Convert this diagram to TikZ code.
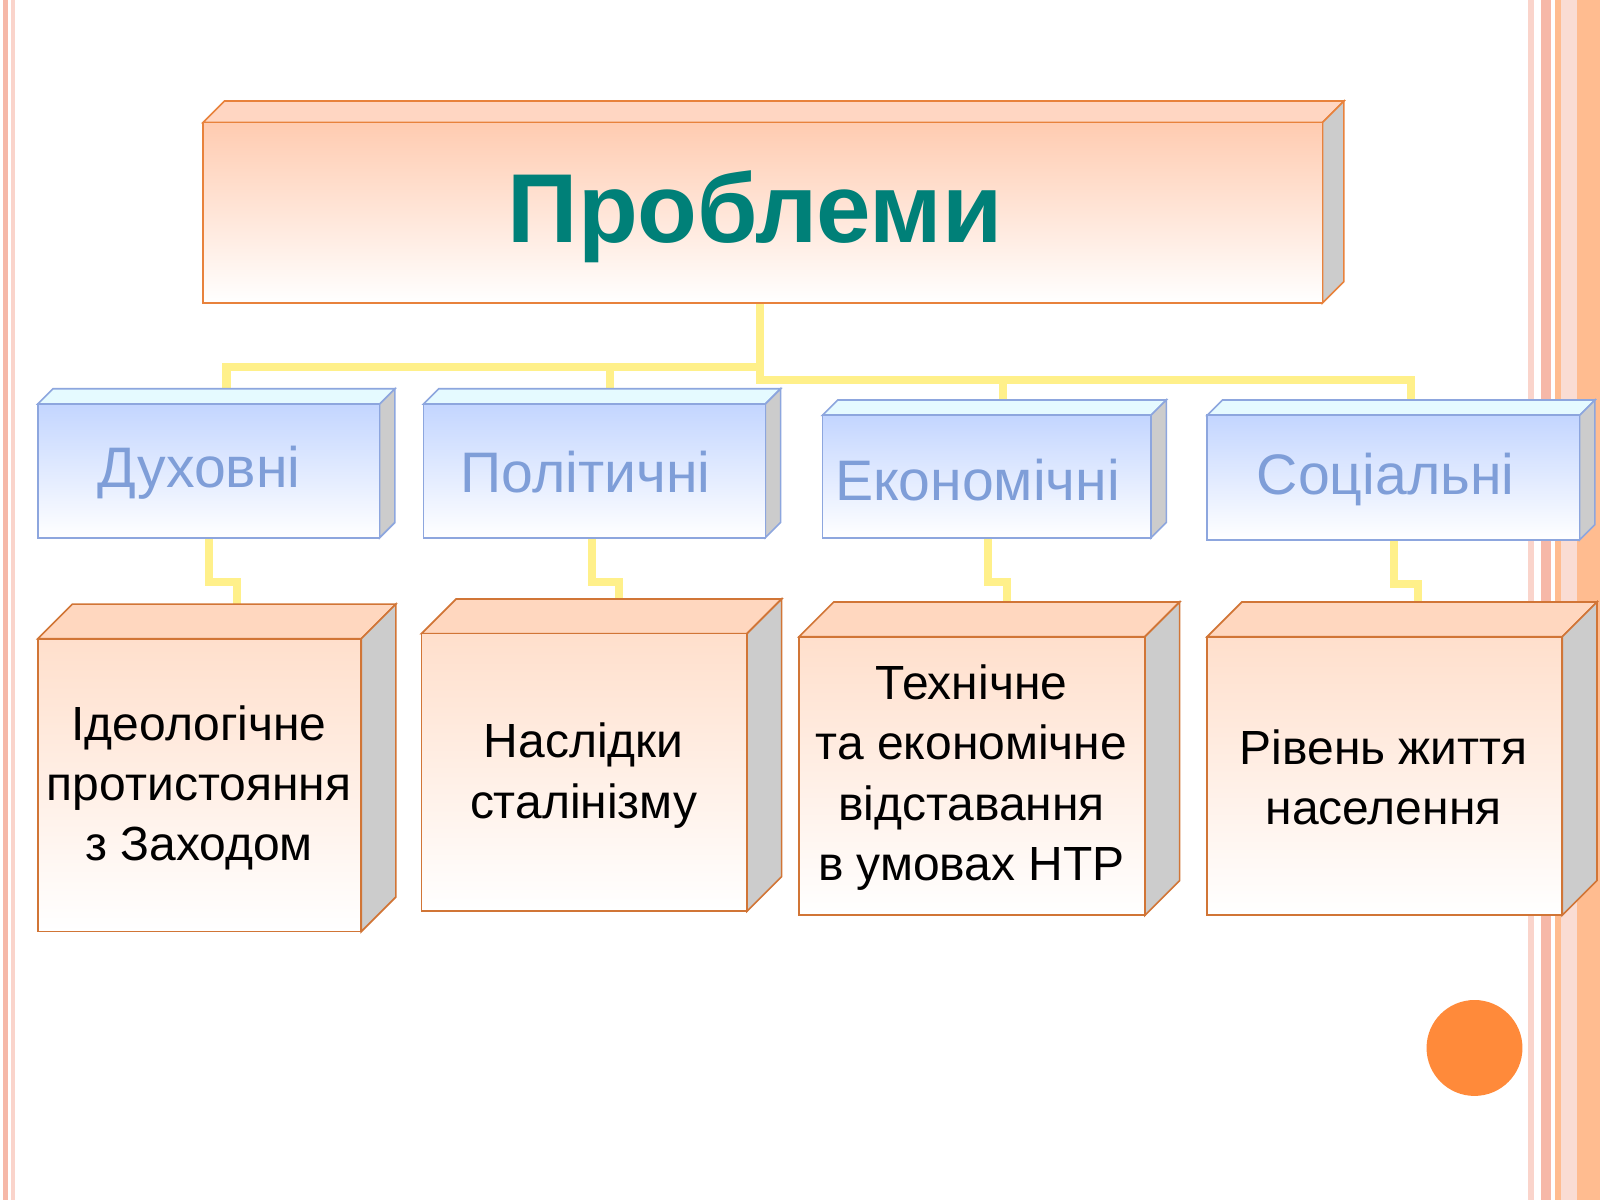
\documentclass[tikz,border=0pt]{standalone}
\usepackage{fontspec}
\setmainfont{Liberation Sans}
\definecolor{teal1}{HTML}{008078}
\definecolor{bluet}{HTML}{7F9ED8}
\definecolor{yel}{HTML}{FFF08A}
\definecolor{ored}{HTML}{E8823C}
\definecolor{bedge}{HTML}{8DA6DE}
\definecolor{pinkl}{HTML}{F6B8A8}
\definecolor{circ}{HTML}{FF8A3A}
\tikzset{
  conn/.style={yel,line width=4pt},
  topbox/.style={draw=ored,line width=0.8pt,top color=orange!35!pink!60,bottom color=white},
  bluebox/.style={draw=bedge,line width=0.8pt,top color=blue!15!cyan!10!white!85!blue,bottom color=white},
  obox/.style={draw=ored!90!black,line width=0.8pt,top color=red!25!orange!20,bottom color=white},
}
% \mybox{name}{x1}{ybottom}{x2}{ytop}{depth}{style}{edge}{topface fill}
\newcommand\mybox[9]{%
  \path[draw=#8,line width=0.8pt,fill=#9] (#2,#5) -- (#2+#6,#5-#6) -- (#4+#6,#5-#6) -- (#4,#5) -- cycle;
  \path[draw=#8,line width=0.8pt,fill=black!20] (#4,#5) -- (#4+#6,#5-#6) -- (#4+#6,#3-#6) -- (#4,#3) -- cycle;
  \path[#7] (#2,#3) rectangle (#4,#5);
  \coordinate (#1) at ({(#2+#4)/2},{(#3+#5)/2});
}
\begin{document}
\begin{tikzpicture}[x=0.5pt,y=-0.5pt]
\useasboundingbox (0,0) rectangle (1568,1176);
\fill[white] (0,0) rectangle (1568,1176);
% borders
\fill[pinkl] (3,0) rectangle (8,1176);
\fill[pinkl!60] (11,0) rectangle (15,1176);
\fill[pinkl!60] (1497,0) rectangle (1503,1176);
\fill[pinkl] (1510,0) rectangle (1520,1176);
\fill[orange!50!pink!70] (1524,0) rectangle (1568,1176);
\fill[pinkl!50] (1530,0) rectangle (1545,1176);
% connectors
\draw[conn] (745,297) -- (745,360) -- (222,360) -- (222,380);
\draw[conn] (598,360) -- (598,380);
\draw[conn] (745,360) -- (745,372) -- (1383,372) -- (1383,392);
\draw[conn] (983,372) -- (983,392);
\draw[conn] (205,527) -- (205,570) -- (232,570) -- (232,592);
\draw[conn] (580,527) -- (580,570) -- (607,570) -- (607,588);
\draw[conn] (968,527) -- (968,570) -- (987,570) -- (987,590);
\draw[conn] (1366,529) -- (1366,572) -- (1390,572) -- (1390,590);
% top box
\mybox{top}{199}{297}{1296}{120}{21}{topbox}{ored}{orange!30!pink!50}
\node[text=teal1,font=\fontsize{48}{58}\selectfont\bfseries] (ttop) at (740,212) {Проблеми};
% blue boxes
\mybox{b1}{37}{527}{372}{396}{15}{bluebox}{bedge}{blue!20!cyan!10}
\mybox{b2}{415}{527}{750}{396}{15}{bluebox}{bedge}{blue!20!cyan!10}
\mybox{b3}{806}{527}{1128}{407}{15}{bluebox}{bedge}{blue!20!cyan!10}
\mybox{b4}{1183}{529}{1548}{407}{15}{bluebox}{bedge}{blue!20!cyan!10}
\tikzset{bt/.style={text=bluet,font=\fontsize{28}{34}\selectfont}}
\node[bt] (tb1) at (195,463) {Духовні};
\node[bt] (tb2) at (574,463) {Політичні};
\node[bt] (tb3) at (958,470) {Економічні};
\node[bt] (tb4) at (1358,470) {Соціальні};
% orange boxes
\mybox{o1}{37}{913}{354}{626}{34}{obox}{ored!90!black}{red!25!orange!25}
\mybox{o2}{413}{893}{732}{621}{34}{obox}{ored!90!black}{red!25!orange!25}
\mybox{o3}{783}{897}{1122}{624}{34}{obox}{ored!90!black}{red!25!orange!25}
\mybox{o4}{1183}{897}{1531}{624}{34}{obox}{ored!90!black}{red!25!orange!25}
\tikzset{ot/.style={align=center,font=\fontsize{23.5}{29.5}\selectfont}}
\node[ot] (to1) at (195,772) {Ідеологічне\\протистояння\\з Заходом};
\node[ot] (to2) at (572,760) {Наслідки\\сталінізму};
\node[ot] (to3) at (952,762) {Технічне\\та економічне\\відставання\\в умовах НТР};
\node[ot] (to4) at (1356,762) {Рівень життя\\населення};
% circle
\fill[circ] (1445,1027) circle (47);
\end{tikzpicture}
\end{document}
